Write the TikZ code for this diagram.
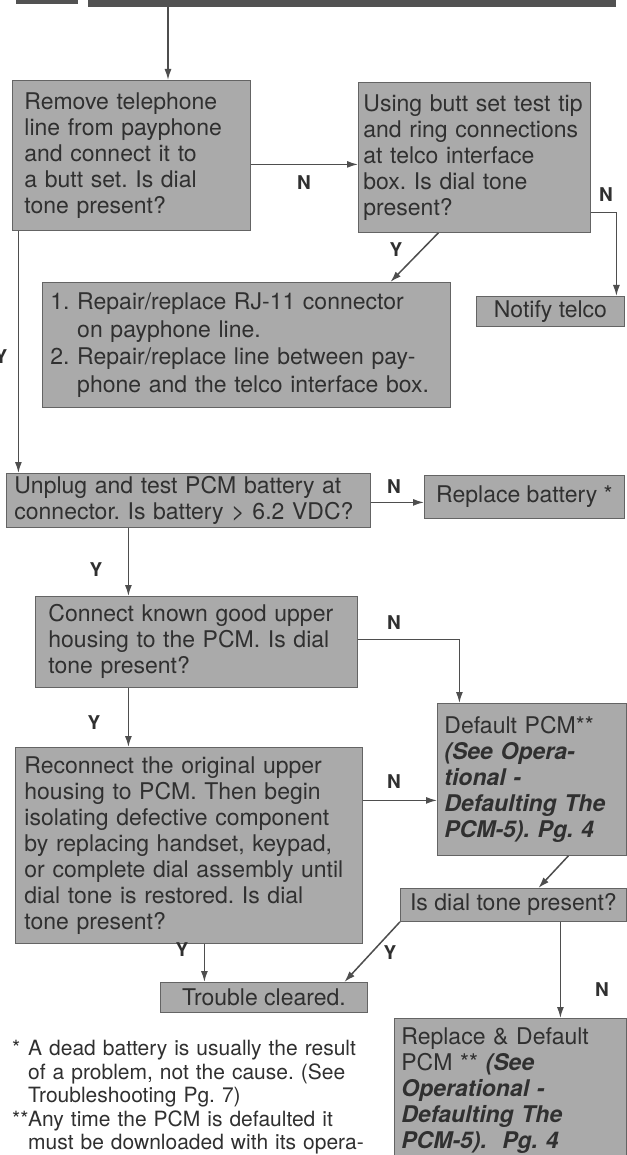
\documentclass[tikz,border=0pt]{standalone}
\usepackage{fontspec}
\setmainfont{TeX Gyre Heros}
\usetikzlibrary{arrows.meta}

\definecolor{boxfill}{RGB}{170,170,170}
\definecolor{boxline}{RGB}{100,100,100}
\definecolor{ink}{RGB}{48,48,48}
\definecolor{wirecol}{RGB}{78,78,78}
\definecolor{barfill}{RGB}{82,82,82}

\newcommand{\boldit}[1]{\textbf{\textit{#1}}}

\begin{document}
\frenchspacing
\begin{tikzpicture}[x=1pt,y=-1pt,
  stepbox/.style={draw=boxline, line width=0.8pt, fill=boxfill, text=ink, anchor=north west,
    align=left, inner ysep=0pt, font=\fontsize{23}{26}\selectfont},
  wire/.style={draw=wirecol, line width=1.5pt, -{Latex[length=11pt,width=7pt]}},
  yn/.style={text=ink, inner sep=0pt, font=\fontsize{19}{19}\selectfont\bfseries},
  note/.style={text=ink, anchor=north west, align=left, inner sep=0pt, text width=356pt,
    font=\fontsize{21}{23.5}\selectfont}]

\fill[white] (0,0) rectangle (626,1155);
\useasboundingbox (0,0) rectangle (626,1155);

%Shape: header bars
\fill[barfill] (16,0) rectangle (78,4);
\fill[barfill] (88,0) rectangle (616,7);
\coordinate (start) at (168,7);

% Text Node
\node[stepbox, minimum width=238pt, minimum height=150pt, text width=214pt, inner xsep=12pt] (remove) at (12,80)
  {Remove telephone\\line from payphone\\and connect it to\\a butt set. Is dial\\tone present?};
% Text Node
\node[stepbox, minimum width=232pt, minimum height=150pt, text width=222pt, inner xsep=5pt] (butt) at (358,82)
  {Using butt set test tip\\and ring connections\\at telco interface\\box. Is dial tone\\present?};
% Text Node
\node[stepbox, minimum width=148pt, minimum height=30pt] (notify) at (476,296) {Notify telco};
% Text Node
\node[stepbox, minimum width=408pt, minimum height=125pt, text width=392pt, inner xsep=8pt,
  font=\fontsize{23}{27.5}\selectfont] (repair) at (42,282)
  {1. Repair/replace RJ-11 connector\\\phantom{1. }on payphone line.\\2. Repair/replace line between pay-\\\phantom{2. }phone and the telco interface box.};
% Text Node
\node[stepbox, minimum width=364pt, minimum height=54pt, text width=348pt, inner xsep=8pt] (unplug) at (6,473)
  {Unplug and test PCM battery at\\connector. Is battery > 6.2 VDC?};
% Text Node
\node[stepbox, minimum width=200pt, minimum height=43pt] (battery) at (424,475) {Replace battery *};
% Text Node
\node[stepbox, minimum width=322pt, minimum height=91pt, text width=296pt, inner xsep=13pt] (connect) at (35,596)
  {Connect known good upper\\housing to the PCM. Is dial\\tone present?};
% Text Node
\node[stepbox, minimum width=189pt, minimum height=152pt, text width=175pt, inner xsep=7pt] (default) at (437,703)
  {Default PCM**\\\boldit{(See Opera-}\\\boldit{tional -}\\\boldit{Defaulting The}\\\boldit{PCM-5). Pg. 4}};
% Text Node
\node[stepbox, minimum width=347pt, minimum height=196pt, text width=329pt, inner xsep=9pt] (reconnect) at (15,747)
  {Reconnect the original upper\\housing to PCM. Then begin\\isolating defective component\\by replacing handset, keypad,\\or complete dial assembly until\\dial tone is restored. Is dial\\tone present?};
% Text Node
\node[stepbox, minimum width=226pt, minimum height=33pt] (dialq) at (400,888) {Is dial tone present?};
% Text Node
\node[stepbox, minimum width=207pt, minimum height=30pt] (cleared) at (160,982) {Trouble cleared.};
% Text Node
\node[stepbox, minimum width=232pt, minimum height=145pt, text width=218pt, inner xsep=7pt] (replace) at (394,1018)
  {Replace \& Default\\PCM ** \boldit{(See}\\\boldit{Operational -}\\\boldit{Defaulting The}\\\boldit{PCM-5).\ \ Pg. 4}};
% Text Node
\node[note] (notes) at (12,1040)
  {\makebox[16pt][l]{*}\makebox[340pt][s]{A dead battery is usually the result}\\
   \hspace*{16pt}\makebox[340pt][s]{of a problem, not the cause. (See}\\
   \hspace*{16pt}Troubleshooting Pg. 7)\\
   \makebox[16pt][l]{**}\makebox[340pt][s]{Any time the PCM is defaulted it}\\
   \hspace*{16pt}\makebox[340pt][s]{must be downloaded with its opera-}};

%Straight Lines
\coordinate (nA) at ([yshift=-9pt]remove.east);
\coordinate (nB) at ([yshift=-55pt]butt.east);
\coordinate (yA) at ([xshift=-113pt]remove.south);
\coordinate (nC) at ([yshift=-2pt]unplug.east);
\coordinate (yB) at ([xshift=-60pt]unplug.south);
\coordinate (nD) at ([yshift=2.5pt]connect.east);
\coordinate (yC) at ([xshift=-68pt]connect.south);
\coordinate (nE) at ([yshift=45pt]reconnect.east);
\coordinate (yD) at ([xshift=15.5pt]reconnect.south);
\coordinate (nF) at ([xshift=47pt]dialq.south);

\draw[wire] (start) -- (start |- remove.north);
\draw[wire] (nA) -- (nA -| butt.west);
\draw[wire] ([xshift=-36pt]butt.south) -- ([xshift=144pt]repair.north);
\draw[wire] (nB) -| ([xshift=66pt]notify.north);
\draw[wire] (yA) -- (yA |- unplug.north);
\draw[wire] (nC) -- (nC -| battery.west);
\draw[wire] (yB) -- (yB |- connect.north);
\draw[wire] (nD) -| ([xshift=-72.5pt]default.north);
\draw[wire] (yC) -- (yC |- reconnect.north);
\draw[wire] (nE) -- (nE -| default.west);
\draw[wire] ([xshift=36.5pt]default.south) -- ([xshift=25pt]dialq.north);
\draw[wire] (dialq.south west) -- ([xshift=80.5pt]cleared.north);
\draw[wire] (yD) -- (yD |- cleared.north);
\draw[wire] (nF) -- (nF |- replace.north);

% Text Node
\node[yn] (lN1) at (304,183) {N};
\node[yn] (lY1) at (396,250) {Y};
\node[yn] (lN2) at (606,195) {N};
\node[yn] (lY0) at (1,357) {Y};
\node[yn] (lN3) at (394,487) {N};
\node[yn] (lY2) at (96,570) {Y};
\node[yn] (lN4) at (394,623) {N};
\node[yn] (lY3) at (94,723) {Y};
\node[yn] (lN5) at (394,782) {N};
\node[yn] (lY4) at (182,950) {Y};
\node[yn] (lY5) at (390,953) {Y};
\node[yn] (lN6) at (602,990) {N};

\end{tikzpicture}
\end{document}
